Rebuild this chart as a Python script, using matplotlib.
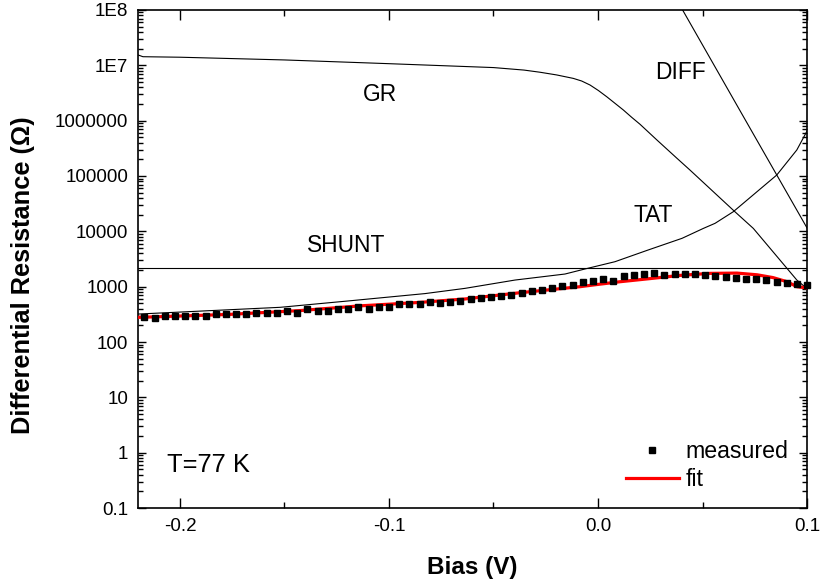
import numpy as np
import matplotlib
matplotlib.use("Agg")
import matplotlib.pyplot as plt
from matplotlib.ticker import FixedLocator, LogLocator, NullFormatter

plt.rcParams["font.family"] = ["Liberation Sans", "DejaVu Sans"]

# measured differential resistance (Ohm) vs bias (V)
bias_meas = [-0.2170, -0.2121, -0.2072, -0.2024, -0.1975, -0.1926, -0.1877, -0.1829,
             -0.1780, -0.1731, -0.1682, -0.1634, -0.1585, -0.1536, -0.1487, -0.1438,
             -0.1390, -0.1341, -0.1292, -0.1243, -0.1195, -0.1146, -0.1097, -0.1048,
             -0.1000, -0.0951, -0.0902, -0.0853, -0.0804, -0.0756, -0.0707, -0.0658,
             -0.0609, -0.0561, -0.0512, -0.0463, -0.0414, -0.0366, -0.0317, -0.0268,
             -0.0219, -0.0170, -0.0122, -0.0073, -0.0024, 0.0025, 0.0073, 0.0122,
             0.0171, 0.0220, 0.0268, 0.0317, 0.0366, 0.0415, 0.0463, 0.0512,
             0.0561, 0.0610, 0.0659, 0.0707, 0.0756, 0.0805, 0.0854, 0.0902,
             0.0951, 0.1000]
r_meas = [279, 275, 291, 291, 291, 291, 295, 316, 316, 316, 316, 334, 334, 334, 363, 334,
          394, 367, 367, 394, 394, 429, 394, 434, 434, 480, 480, 480, 528, 513, 535, 557,
          591, 615, 658, 686, 706, 778, 824, 869, 946, 1028, 1072, 1199, 1282, 1375, 1282, 1556,
          1644, 1693, 1766, 1644, 1693, 1693, 1693, 1644, 1556, 1513, 1452, 1393, 1393, 1303,
          1229, 1151, 1117, 1058]

# fit
bias_fit = [-0.2201, -0.2, -0.176, -0.1426, -0.1139, -0.0852, -0.0636, -0.0373, -0.0086,
            0.0, 0.0105, 0.0249, 0.0392, 0.0536, 0.0665, 0.0761, 0.0837, 0.0904, 0.0952, 0.1]
r_fit = [279, 295, 316, 370, 450, 520, 600, 778, 1000, 1100, 1229, 1400, 1600, 1740, 1760,
         1640, 1460, 1230, 1000, 950]

# components
bias_gr = [-0.2201, -0.2177, -0.2, -0.15, -0.1, -0.05, -0.0354, -0.0278, -0.0198, -0.0118,
           -0.0078, -0.0038, 0.0002, 0.0042, 0.0081, 0.0121, 0.0161, 0.0201, 0.0281, 0.0377,
           0.044, 0.0655, 0.0743, 0.0951, 0.1]
r_gr = [1.54e7, 1.43e7, 1.40e7, 1.25e7, 1.07e7, 9.1e6, 8.2e6, 7.5e6, 6.7e6, 5.8e6,
        5.2e6, 4.4e6, 3.5e6, 2.7e6, 2.06e6, 1.56e6, 1.15e6, 8.6e5, 4.5e5, 2.1e5,
        1.28e5, 2.26e4, 1.13e4, 1.32e3, 920]

bias_tat = [-0.2201, -0.152, -0.12, -0.0828, -0.0636, -0.0397, -0.0158, -0.0062, 0.0081,
            0.0239, 0.0402, 0.0504, 0.0560, 0.0647, 0.0855, 0.0951, 0.1]
r_tat = [320, 424, 550, 750, 933, 1318, 1693, 2090, 2826, 4590, 7480, 11300, 13960,
         22600, 1.04e5, 2.95e5, 6.5e5]

bias_diff = [0.035, 0.068, 0.1]
r_diff = [2.3e8, 1.5e6, 1.15e4]

bias_shunt = [-0.2201, 0.1]
r_shunt = [2150, 2150]

ytick_vals = [0.1, 1, 10, 100, 1000, 1e4, 1e5, 1e6, 1e7, 1e8]
ytick_labels = ["0.1", "1", "10", "100", "1000", "10000", "100000", "1000000", "1E7", "1E8"]

fig = plt.figure(figsize=(8.21, 5.86), dpi=100)
ax = fig.add_axes([0.168, 0.133, 0.815, 0.850])

ax.plot(bias_gr, r_gr, color="black", lw=0.8)
ax.plot(bias_tat, r_tat, color="black", lw=0.8)
ax.plot(bias_diff, r_diff, color="black", lw=0.8)
ax.plot(bias_shunt, r_shunt, color="black", lw=0.8)
ax.plot(bias_meas, r_meas, "s", color="black", ms=4.6, label="measured", clip_on=False, zorder=4)
ax.plot(bias_fit, r_fit, "-", color="red", lw=2.3, label="fit", zorder=3)

ax.set_yscale("log")
ax.set_xlim(-0.2201, 0.1)
ax.set_ylim(0.1, 1e8)

ax.set_xticks([-0.2, -0.1, 0.0, 0.1])
ax.set_xticklabels(["-0.2", "-0.1", "0.0", "0.1"])
ax.xaxis.set_minor_locator(FixedLocator([-0.15, -0.05, 0.05]))
ax.yaxis.set_major_locator(FixedLocator(ytick_vals))
ax.set_yticklabels(ytick_labels)
ax.yaxis.set_minor_locator(LogLocator(base=10, subs=np.arange(2, 10), numticks=20))
ax.yaxis.set_minor_formatter(NullFormatter())

ax.tick_params(which="both", direction="in", top=True, right=True, width=1.0,
               labelsize=13.5, pad=7)
ax.tick_params(axis="x", which="major", length=7)
ax.tick_params(axis="x", which="minor", length=4.3)
ax.tick_params(axis="y", which="major", length=6)
ax.tick_params(axis="y", which="minor", length=3.5)
for s in ax.spines.values():
    s.set_linewidth(1.2)

ax.set_xlabel("Bias (V)", fontsize=17.5, fontweight="bold", labelpad=15)
ax.set_ylabel("Differential Resistance (\u03a9)", fontsize=18.3, fontweight="bold")
ax.yaxis.set_label_coords(-0.154, 0.468)

ax.text(-0.1043, 3.03e6, "GR", fontsize=16.4, ha="center", va="center")
ax.text(-0.1203, 5660, "SHUNT", fontsize=16.4, ha="center", va="center")
ax.text(0.0266, 19150, "TAT", fontsize=16.4, ha="center", va="center")
ax.text(0.0392, 7.4e6, "DIFF", fontsize=16.4, ha="center", va="center")
ax.text(-0.1866, 0.6, "T=77 K", fontsize=18.4, ha="center", va="center")

ax.legend(loc="upper left", bbox_to_anchor=(0.7294, 0.137), frameon=False, fontsize=16.7,
          handlelength=2.28, handletextpad=0.3, labelspacing=0.22, borderpad=0,
          borderaxespad=0)

fig.savefig("out.png", dpi=100)
